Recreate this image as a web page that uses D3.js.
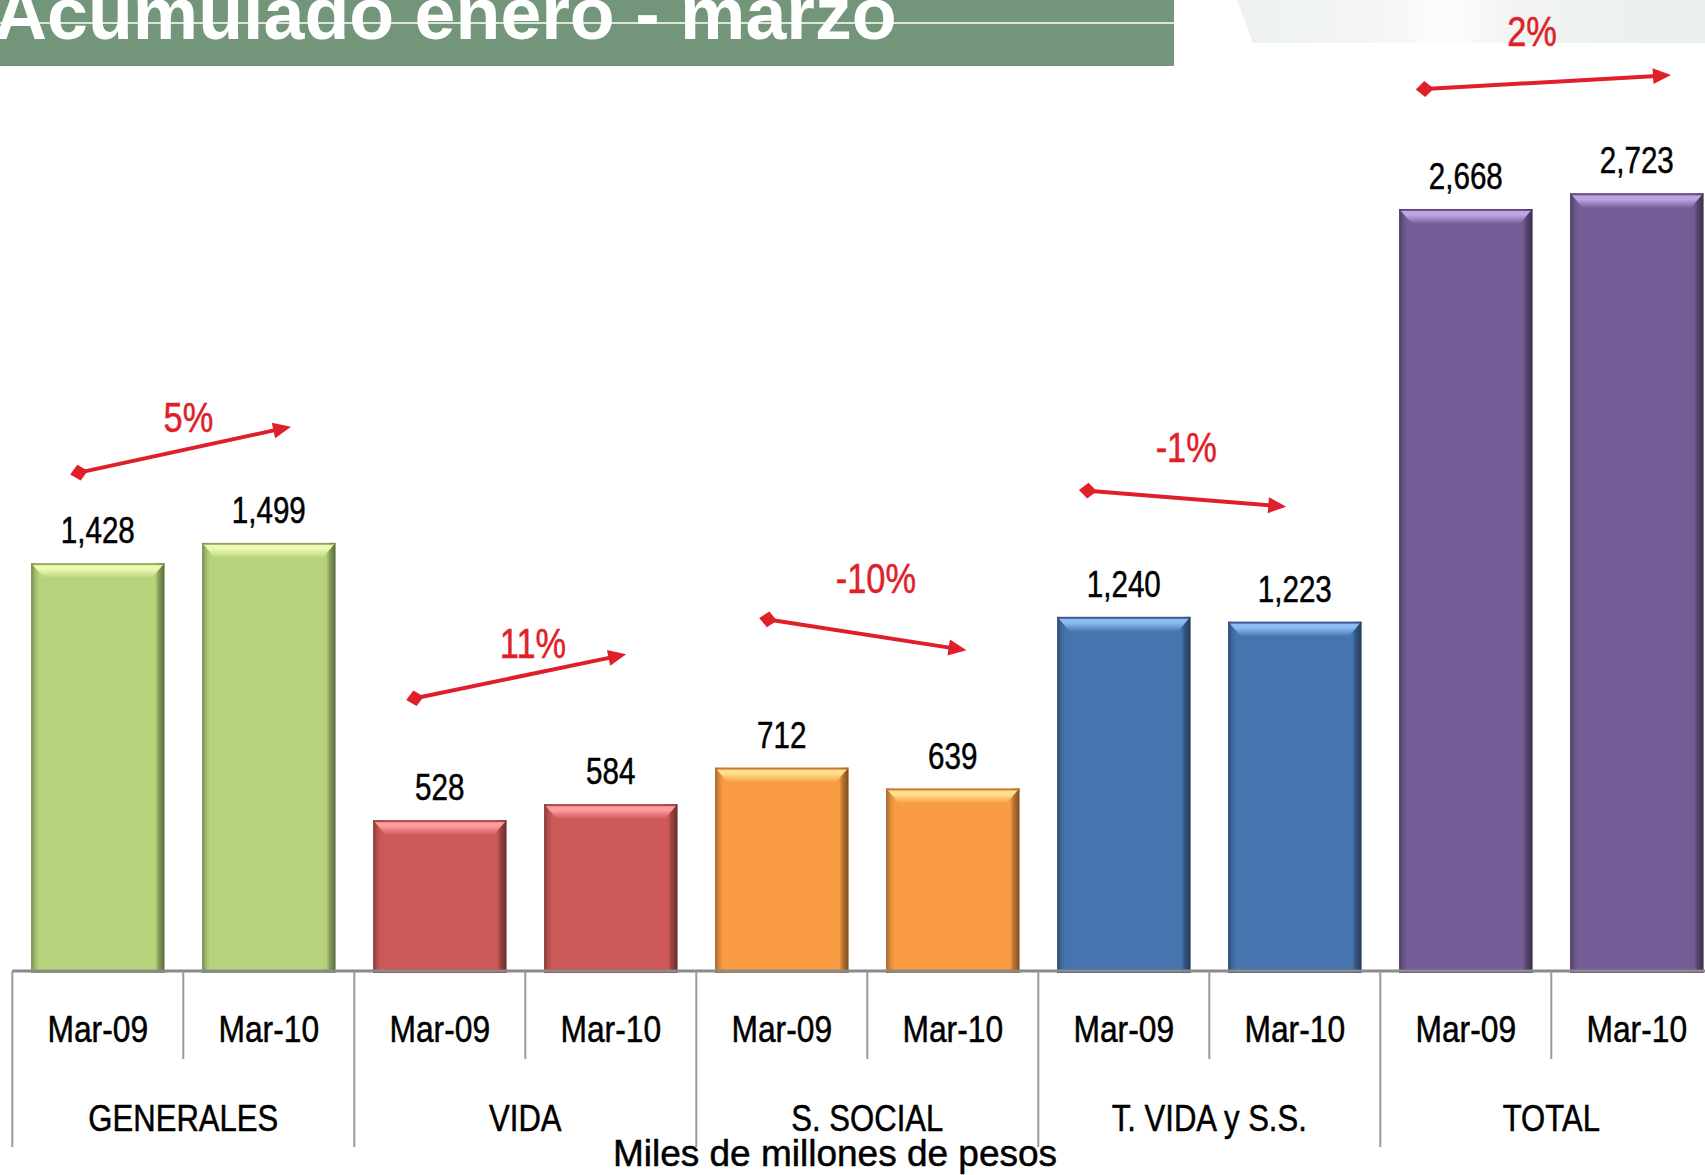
<!DOCTYPE html>
<html>
<head>
<meta charset="utf-8">
<script src="https://cdn.jsdelivr.net/npm/d3@7"></script>
<style>
  body { margin: 0; background: #fff; }
  svg { display: block; }
  text { font-family: "Liberation Sans", Arial, sans-serif; }
</style>
</head>
<body>
<div id="chart"></div>
<script>
const categories = ["GENERALES", "VIDA", "S. SOCIAL", "T. VIDA y S.S.", "TOTAL"];
const periods = ["Mar-09", "Mar-10"];
const mar09 = [1428, 528, 712, 1240, 2668];
const mar10 = [1499, 584, 639, 1223, 2723];
const changes = ["5%", "11%", "-10%", "-1%", "2%"];

// where the red arrows sit (value units for height, fraction of a bar slot for x)
const arrowFrom = [1745, 955, 1231, 1682, 3088];
const arrowTo = [1906, 1109, 1123, 1626, 3137];
const changeLabelAt = [1889, 1095, 1322, 1784, 3239];
const changeLabelX = [1.03, 1.045, 1.05, 0.865, 0.887];
const arrowFromX = [0.39, 0.355, 0.42, 0.29, 0.26];
const arrowToX = [0.63, 0.59, 0.58, 0.45, 0.70];

const mainColor = ["#b6d37c", "#cd5959", "#f99b42", "#4674ae", "#745c96"];
const lightColor = ["#eefab4", "#ff9c9c", "#ffe08a", "#8dbcf2", "#bda6e4"];
const darkColor = ["#7a9646", "#8c3434", "#b36524", "#2b4a76", "#4d3b69"];

const W = 1705, H = 1175;
const svg = d3.select("#chart").append("svg").attr("width", W).attr("height", H);
const defs = svg.append("defs");

const x = d3.scaleBand().domain(categories).range([12.3, 12.3 + 5 * 342]).padding(0);
const xi = d3.scaleBand().domain(periods).range([0, x.bandwidth()])
    .paddingInner(0.22).paddingOuter(0.11);
const y = d3.scaleLinear().domain([0, 3400]).range([971, 0]);
const slot = x.bandwidth() / 2;

// gradients
const side = defs.append("linearGradient").attr("id", "side");
[[0, .35], [.03, .12], [.06, 0], [.93, 0], [.955, .25], [1, .5]].forEach(s =>
    side.append("stop").attr("offset", s[0]).attr("stop-color", "#000").attr("stop-opacity", s[1]));
categories.forEach((c, i) => {
    const g = defs.append("linearGradient").attr("id", "top" + i)
        .attr("x1", 0).attr("y1", 0).attr("x2", 0).attr("y2", 1);
    g.append("stop").attr("offset", 0).attr("stop-color", lightColor[i]);
    g.append("stop").attr("offset", 0.35).attr("stop-color", lightColor[i]);
    g.append("stop").attr("offset", 1).attr("stop-color", mainColor[i]);
});
const bg = defs.append("linearGradient").attr("id", "bgStreak");
[[0, "#eef2ef"], [.3, "#f3f6f4"], [.45, "#fcfdfc"], [.6, "#f1f4f2"], [1, "#eaefeb"]].forEach(s =>
    bg.append("stop").attr("offset", s[0]).attr("stop-color", s[1]));

// faint background streak top right
svg.append("polygon")
    .attr("points", "1237,0 1705,0 1705,43 1253,43")
    .attr("fill", "url(#bgStreak)");

// title banner
svg.append("rect").attr("x", 0).attr("y", 0).attr("width", 1174).attr("height", 66).attr("fill", "#73967b");
svg.append("line").attr("x1", 0).attr("x2", 1174).attr("y1", 23).attr("y2", 23)
    .attr("stroke", "#fff").attr("stroke-width", 1.5);
svg.append("text").attr("x", -6).attr("y", 39)
    .attr("font-size", 73.5).attr("font-weight", "bold").attr("fill", "#fff")
    .text("Acumulado enero - marzo");

function label(parent, px, py, txt, size, sx, color) {
    parent.append("g").attr("transform", `translate(${px},${py})`)
        .append("text")
        .attr("transform", `scale(${sx},1)`)
        .attr("text-anchor", "middle")
        .attr("font-size", size)
        .attr("fill", color || "#000")
        .attr("stroke", color || "#000")
        .attr("stroke-width", 0.5)
        .text(txt);
}

// bars
const rows = categories.flatMap((c, i) => [
    { c, p: periods[0], v: mar09[i], i },
    { c, p: periods[1], v: mar10[i], i }
]);
const bw = xi.bandwidth();
const base = y(0);

const bars = svg.append("g").selectAll("g").data(rows).join("g")
    .attr("transform", d => `translate(${x(d.c) + xi(d.p)},0)`);

bars.append("rect")
    .attr("x", 0).attr("y", d => y(d.v))
    .attr("width", bw).attr("height", d => base + 2 - y(d.v))
    .attr("fill", d => mainColor[d.i]);
bars.append("rect")
    .attr("x", 0).attr("y", d => y(d.v))
    .attr("width", bw).attr("height", d => base + 2 - y(d.v))
    .attr("fill", "url(#side)");
bars.append("polygon")
    .attr("points", d => {
        const t = y(d.v);
        return `1,${t + 1} ${bw - 1},${t + 1} ${bw - 13},${t + 15} 13,${t + 15}`;
    })
    .attr("fill", d => `url(#top${d.i})`);
bars.append("rect")
    .attr("x", 0).attr("y", d => y(d.v))
    .attr("width", bw).attr("height", 2)
    .attr("fill", d => darkColor[d.i]).attr("opacity", 0.7);
bars.append("rect")
    .attr("x", 0).attr("y", base - 1)
    .attr("width", bw).attr("height", 3)
    .attr("fill", d => darkColor[d.i]).attr("opacity", 0.8);

// value labels
rows.forEach(d => {
    label(svg, x(d.c) + xi(d.p) + bw / 2, y(d.v) - 20, d3.format(",")(d.v), 37, 0.8);
});

// axis line and ticks
const axis = svg.append("g");
axis.append("line").attr("x1", x.range()[0]).attr("x2", W)
    .attr("y1", base).attr("y2", base)
    .attr("stroke", "#8a8a8a").attr("stroke-width", 3);
categories.forEach(c => {
    axis.append("line").attr("x1", x(c)).attr("x2", x(c))
        .attr("y1", base).attr("y2", 1147).attr("stroke", "#9a9a9a").attr("stroke-width", 2);
    axis.append("line").attr("x1", x(c) + slot).attr("x2", x(c) + slot)
        .attr("y1", base).attr("y2", 1059).attr("stroke", "#9a9a9a").attr("stroke-width", 2);
    periods.forEach(p => label(axis, x(c) + xi(p) + bw / 2, 1042, p, 37, 0.86));
    label(axis, x(c) + x.bandwidth() / 2, 1131, c, 37, 0.84);
});

label(svg, 835, 1166, "Miles de millones de pesos", 37, 1);

// change arrows
const red = "#df1f29";
categories.forEach((c, i) => {
    const x1 = x(c) + arrowFromX[i] * slot, y1 = y(arrowFrom[i]);
    const x2 = x(c) + slot + arrowToX[i] * slot, y2 = y(arrowTo[i]);
    const a = Math.atan2(y2 - y1, x2 - x1) * 180 / Math.PI;
    const g = svg.append("g");
    g.append("line")
        .attr("x1", x1).attr("y1", y1)
        .attr("x2", x2 - 14 * Math.cos(a * Math.PI / 180))
        .attr("y2", y2 - 14 * Math.sin(a * Math.PI / 180))
        .attr("stroke", red).attr("stroke-width", 4);
    g.append("path")
        .attr("d", "M0,0 L-18,-8 L-18,8 Z")
        .attr("transform", `translate(${x2},${y2}) rotate(${a})`)
        .attr("fill", red);
    g.append("path")
        .attr("d", "M-9,0 L0,-8 L9,0 L0,8 Z")
        .attr("transform", `translate(${x1},${y1}) rotate(${a})`)
        .attr("fill", red);
    label(g, x(c) + changeLabelX[i] * slot, y(changeLabelAt[i]), changes[i], 43, 0.8, red);
});
</script>
</body>
</html>
